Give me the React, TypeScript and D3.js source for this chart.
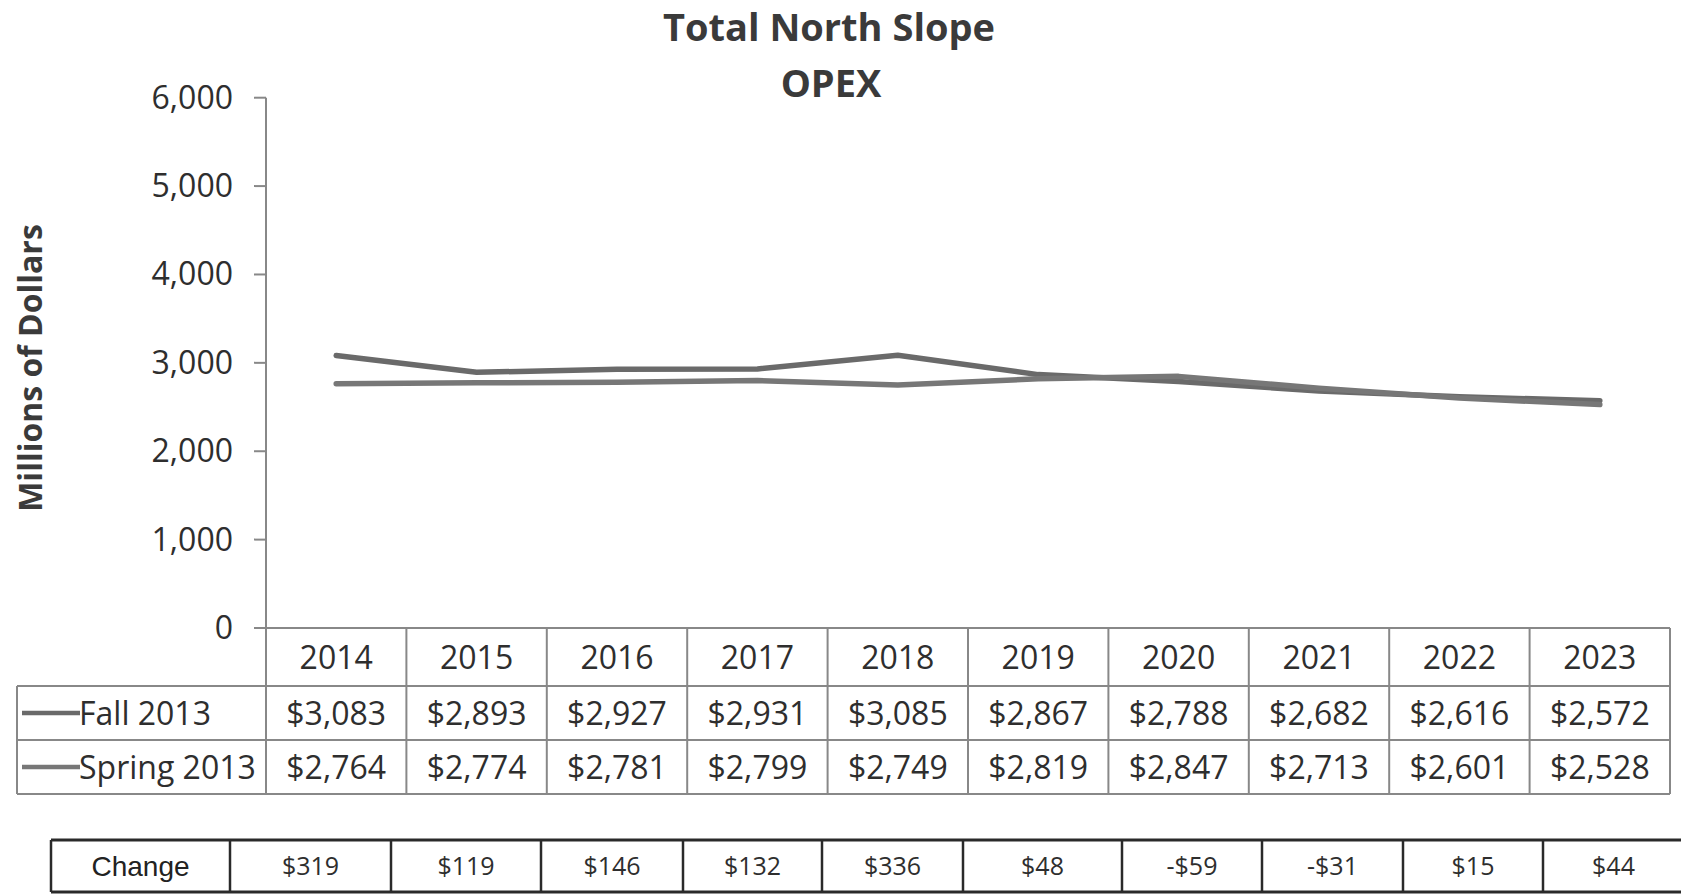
import React from "react";
import * as d3 from "d3";

// ---- data ----
const years = ["2014", "2015", "2016", "2017", "2018", "2019", "2020", "2021", "2022", "2023"];
const fall2013 = [3083, 2893, 2927, 2931, 3085, 2867, 2788, 2682, 2616, 2572];
const spring2013 = [2764, 2774, 2781, 2799, 2749, 2819, 2847, 2713, 2601, 2528];
const changeValues = [319, 119, 146, 132, 336, 48, -59, -31, 15, 44];
const yTicks = [0, 1000, 2000, 3000, 4000, 5000, 6000];
const seriesNames = ["Fall 2013", "Spring 2013"];

// ---- layout ----
const W = 1681;
const H = 894;
const plotLeft = 266;
const plotRight = 1670;
const yTop = 97.7;
const yBottom = 628;
const rowEdges = [628, 686, 740, 794];
const legendLeft = 17;
const changeTop = 840;
const changeBottom = 892;
const changeLeft = 51;
const changeColWidths = [179, 161, 150, 142, 139, 141, 159, 140, 141, 140, 141];

const FONT = "'Open Sans', 'Noto Sans', sans-serif";
const TEXT = "#2e2e2e";
const GRID = "#888";
const lineColors = ["#6a6a6a", "#777777"];

const fmtComma = d3.format(",");
const fmtMoney = (v: number) => (v < 0 ? "-$" : "$") + fmtComma(Math.abs(v));

export default function App() {
  const x = d3.scaleBand<string>().domain(years).range([plotLeft, plotRight]).padding(0);
  const bw = x.bandwidth();
  const cx = (yr: string) => (x(yr) as number) + bw / 2;
  const y = d3.scaleLinear().domain([0, 6000]).range([yBottom, yTop]);

  const line = d3
    .line<number>()
    .x((_, i) => cx(years[i]))
    .y((d) => y(d));

  const series = [fall2013, spring2013];

  const changeEdges: number[] = [changeLeft];
  changeColWidths.forEach((w, i) => changeEdges.push(changeEdges[i] + w));

  const rowCenter = (r: number) => (rowEdges[r] + rowEdges[r + 1]) / 2;

  return (
    <svg
      width={W}
      height={H}
      style={{ position: "absolute", left: 0, top: 0, display: "block", background: "#fff" }}
    >
      <rect x={0} y={0} width={W} height={H} fill="#fff" />
      {/* Title */}
      <text x={829} y={41} textAnchor="middle" fontFamily={FONT} fontWeight={700} fontSize={38} fill="#3a3a3a">
        Total North Slope
      </text>
      <text x={831} y={97} textAnchor="middle" fontFamily={FONT} fontWeight={700} fontSize={38} fill="#3a3a3a">
        OPEX
      </text>

      {/* Y axis label */}
      <text
        transform={`translate(42,368) rotate(-90)`}
        textAnchor="middle"
        fontFamily={FONT}
        fontWeight={700}
        fontSize={32}
        fill="#3a3a3a"
      >
        Millions of Dollars
      </text>

      {/* Y axis */}
      <line x1={plotLeft} x2={plotLeft} y1={y(6000)} y2={yBottom} stroke={GRID} strokeWidth={2} />
      {yTicks.map((t) => (
        <g key={t}>
          <line x1={plotLeft - 12} x2={plotLeft} y1={y(t)} y2={y(t)} stroke={GRID} strokeWidth={2} />
          <text
            x={233}
            y={y(t) + 11}
            textAnchor="end"
            fontFamily={FONT}
            fontSize={32}
            fill={TEXT}
          >
            {fmtComma(t)}
          </text>
        </g>
      ))}

      {/* Data table grid */}
      <g stroke={GRID} strokeWidth={2} fill="none">
        <line x1={plotLeft} x2={plotRight} y1={rowEdges[0]} y2={rowEdges[0]} />
        {[1, 2, 3].map((r) => (
          <line key={r} x1={legendLeft} x2={plotRight} y1={rowEdges[r]} y2={rowEdges[r]} />
        ))}
        <line x1={legendLeft} x2={legendLeft} y1={rowEdges[1]} y2={rowEdges[3]} />
        {years.map((yr) => (
          <line key={yr} x1={x(yr) as number} x2={x(yr) as number} y1={rowEdges[0]} y2={rowEdges[3]} />
        ))}
        <line x1={plotRight} x2={plotRight} y1={rowEdges[0]} y2={rowEdges[3]} />
      </g>

      {/* Header years */}
      {years.map((yr) => (
        <text key={yr} x={cx(yr)} y={rowCenter(0) + 11.5} textAnchor="middle" fontFamily={FONT} fontSize={32} fill={TEXT}>
          {yr}
        </text>
      ))}

      {/* Series rows */}
      {series.map((vals, s) => (
        <g key={s}>
          <line
            x1={legendLeft + 5}
            x2={legendLeft + 63}
            y1={rowCenter(s + 1)}
            y2={rowCenter(s + 1)}
            stroke={lineColors[s]}
            strokeWidth={4.5}
          />
          <text x={legendLeft + 62} y={rowCenter(s + 1) + 11.5} fontFamily={FONT} fontSize={32} fill={TEXT}>
            {seriesNames[s]}
          </text>
          {vals.map((v, i) => (
            <text
              key={i}
              x={cx(years[i])}
              y={rowCenter(s + 1) + 11.5}
              textAnchor="middle"
              fontFamily={FONT}
              fontSize={32}
              fill={TEXT}
            >
              {fmtMoney(v)}
            </text>
          ))}
        </g>
      ))}

      {/* Lines */}
      {series.map((vals, s) => (
        <path
          key={s}
          d={line(vals) as string}
          fill="none"
          stroke={lineColors[s]}
          strokeWidth={5.5}
          strokeLinejoin="round"
          strokeLinecap="round"
        />
      ))}

      {/* Change table */}
      <g stroke="#2a2a2a" fill="none">
        <line x1={changeLeft} x2={changeEdges[changeEdges.length - 1]} y1={changeTop} y2={changeTop} strokeWidth={3} />
        <line x1={changeLeft} x2={changeEdges[changeEdges.length - 1]} y1={changeBottom} y2={changeBottom} strokeWidth={3} />
        {changeEdges.map((e, i) => (
          <line key={i} x1={e} x2={e} y1={changeTop} y2={changeBottom} strokeWidth={2.5} />
        ))}
      </g>
      <text
        x={(changeEdges[0] + changeEdges[1]) / 2}
        y={(changeTop + changeBottom) / 2 + 10}
        textAnchor="middle"
        fontFamily="'Liberation Sans', Arial, sans-serif"
        fontSize={28}
        fill="#222"
      >
        Change
      </text>
      {changeValues.map((v, i) => (
        <text
          key={i}
          x={(changeEdges[i + 1] + changeEdges[i + 2]) / 2}
          y={(changeTop + changeBottom) / 2 + 9}
          textAnchor="middle"
          fontFamily={FONT}
          fontSize={25}
          fill={TEXT}
        >
          {fmtMoney(v)}
        </text>
      ))}
    </svg>
  );
}
